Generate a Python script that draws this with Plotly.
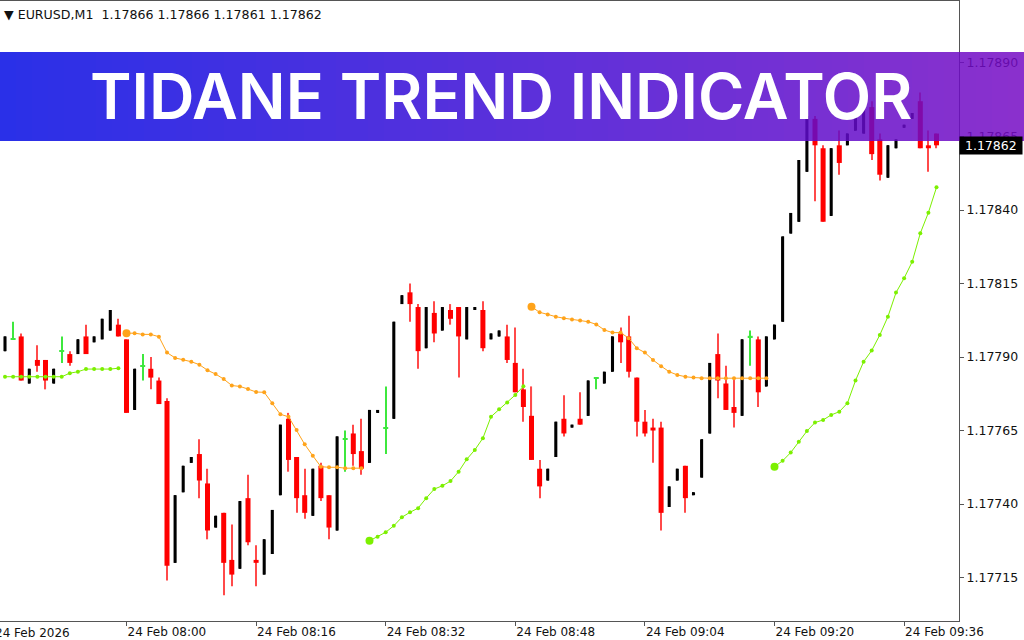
import plotly.graph_objects as go

# ---------------- data (EURUSD M1, 24 Feb 2026, 07:45 .. 09:40) ----------------
opens = [1.17792, 1.17796, 1.17797, 1.17781, 1.17789, 1.17789, 1.17781, 1.17792, 1.17791, 1.17791,
         1.17797, 1.17795, 1.17796, 1.17799, 1.17801, 1.17796, 1.17772, 1.17787, 1.17786, 1.17782,
         1.17775, 1.17720, 1.17744, 1.17754, 1.17757, 1.17747, 1.17732, 1.17737, 1.17721, 1.17718,
         1.17742, 1.17721, 1.17716, 1.17723, 1.17743, 1.17769, 1.17756, 1.17743, 1.17736, 1.17753,
         1.17743, 1.17731, 1.17762, 1.17764, 1.17758, 1.17754, 1.17771, 1.17766, 1.17769, 1.17808,
         1.17812, 1.17807, 1.17793, 1.17805, 1.17799, 1.17806, 1.17807, 1.17796, 1.17806, 1.17806,
         1.17796, 1.17797, 1.17797, 1.17788, 1.17779, 1.17770, 1.17752, 1.17748, 1.17756, 1.17769,
         1.17766, 1.17769, 1.17770, 1.17783, 1.17781, 1.17785, 1.17798, 1.17797, 1.17783, 1.17768,
         1.17766, 1.17766, 1.17739, 1.17748, 1.17753, 1.17743, 1.17749, 1.17764, 1.17791, 1.17781,
         1.17773, 1.17770, 1.17797, 1.17796, 1.17780, 1.17796, 1.17802, 1.17832, 1.17836, 1.17853,
         1.17871, 1.17861, 1.17838, 1.17862, 1.17862, 1.17867, 1.17866, 1.17875, 1.17864, 1.17851,
         1.17861, 1.17868, 1.17871, 1.17877, 1.17862, 1.17866]
highs = [1.17797, 1.17802, 1.17798, 1.17786, 1.17794, 1.17789, 1.17786, 1.17797, 1.17792, 1.17796,
         1.17801, 1.17797, 1.17803, 1.17806, 1.17803, 1.17796, 1.17786, 1.17791, 1.17790, 1.17783,
         1.17776, 1.17743, 1.17753, 1.17756, 1.17762, 1.17752, 1.17736, 1.17737, 1.17733, 1.17741,
         1.17750, 1.17726, 1.17728, 1.17738, 1.17767, 1.17771, 1.17756, 1.17752, 1.17752, 1.17754,
         1.17743, 1.17763, 1.17765, 1.17767, 1.17769, 1.17772, 1.17772, 1.17780, 1.17802, 1.17811,
         1.17815, 1.17808, 1.17807, 1.17809, 1.17807, 1.17808, 1.17807, 1.17807, 1.17807, 1.17809,
         1.17798, 1.17799, 1.17801, 1.17800, 1.17786, 1.17780, 1.17755, 1.17752, 1.17768, 1.17777,
         1.17767, 1.17778, 1.17782, 1.17783, 1.17785, 1.17797, 1.17800, 1.17804, 1.17783, 1.17772,
         1.17769, 1.17768, 1.17746, 1.17752, 1.17753, 1.17744, 1.17762, 1.17788, 1.17798, 1.17787,
         1.17783, 1.17796, 1.17799, 1.17797, 1.17797, 1.17801, 1.17831, 1.17839, 1.17857, 1.17872,
         1.17872, 1.17862, 1.17861, 1.17867, 1.17866, 1.17873, 1.17875, 1.17877, 1.17866, 1.17862,
         1.17864, 1.17869, 1.17873, 1.17880, 1.17867, 1.17866]
lows = [1.17792, 1.17796, 1.17782, 1.17781, 1.17785, 1.17779, 1.17781, 1.17788, 1.17787, 1.17791,
        1.17791, 1.17795, 1.17796, 1.17799, 1.17797, 1.17771, 1.17772, 1.17782, 1.17779, 1.17774,
        1.17714, 1.17720, 1.17744, 1.17754, 1.17742, 1.17728, 1.17732, 1.17709, 1.17712, 1.17718,
        1.17726, 1.17712, 1.17716, 1.17723, 1.17743, 1.17751, 1.17737, 1.17735, 1.17736, 1.17741,
        1.17728, 1.17731, 1.17751, 1.17753, 1.17750, 1.17754, 1.17771, 1.17757, 1.17769, 1.17808,
        1.17802, 1.17786, 1.17793, 1.17795, 1.17799, 1.17801, 1.17783, 1.17796, 1.17806, 1.17792,
        1.17796, 1.17797, 1.17788, 1.17778, 1.17768, 1.17755, 1.17742, 1.17748, 1.17756, 1.17763,
        1.17766, 1.17767, 1.17770, 1.17779, 1.17781, 1.17785, 1.17788, 1.17783, 1.17763, 1.17763,
        1.17754, 1.17731, 1.17739, 1.17748, 1.17737, 1.17743, 1.17749, 1.17764, 1.17776, 1.17772,
        1.17766, 1.17770, 1.17787, 1.17773, 1.17780, 1.17796, 1.17802, 1.17832, 1.17836, 1.17853,
        1.17843, 1.17836, 1.17838, 1.17852, 1.17862, 1.17867, 1.17866, 1.17857, 1.17850, 1.17851,
        1.17861, 1.17868, 1.17871, 1.17861, 1.17853, 1.17861]
closes = [1.17797, 1.17796, 1.17782, 1.17786, 1.17787, 1.17782, 1.17786, 1.17792, 1.17788, 1.17796,
          1.17791, 1.17797, 1.17803, 1.17806, 1.17797, 1.17771, 1.17786, 1.17787, 1.17783, 1.17774,
          1.17719, 1.17743, 1.17753, 1.17756, 1.17748, 1.17731, 1.17736, 1.17720, 1.17716, 1.17741,
          1.17727, 1.17720, 1.17728, 1.17738, 1.17767, 1.17755, 1.17742, 1.17737, 1.17752, 1.17742,
          1.17732, 1.17763, 1.17762, 1.17757, 1.17752, 1.17772, 1.17772, 1.17766, 1.17802, 1.17811,
          1.17808, 1.17792, 1.17807, 1.17798, 1.17807, 1.17803, 1.17797, 1.17807, 1.17807, 1.17793,
          1.17798, 1.17799, 1.17789, 1.17778, 1.17773, 1.17755, 1.17746, 1.17752, 1.17768, 1.17764,
          1.17767, 1.17767, 1.17782, 1.17783, 1.17785, 1.17797, 1.17795, 1.17785, 1.17768, 1.17764,
          1.17765, 1.17737, 1.17746, 1.17752, 1.17742, 1.17744, 1.17762, 1.17788, 1.17782, 1.17772,
          1.17771, 1.17796, 1.17797, 1.17778, 1.17797, 1.17801, 1.17831, 1.17839, 1.17857, 1.17872,
          1.17862, 1.17836, 1.17861, 1.17856, 1.17866, 1.17873, 1.17875, 1.17859, 1.17852, 1.17862,
          1.17864, 1.17869, 1.17873, 1.17861, 1.17861, 1.17862]

# Tidane trend indicator: up-trend (green) and down-trend (orange) lines
trend_up = ([1.177833] * 8 + [1.177845, 1.177850, 1.177859, 1.177859, 1.177859, 1.177859, 1.177862]
            + [None] * 30
            + [1.177275, 1.177289, 1.177304, 1.177326, 1.177355, 1.177372, 1.177386, 1.177420,
               1.177451, 1.177462, 1.177478, 1.177510, 1.177552, 1.177584, 1.177624, 1.177697,
               1.177722, 1.177745, 1.177771, 1.177801]
            + [None] * 30
            + [1.177527, 1.177547, 1.177575, 1.177612, 1.177648, 1.177677, 1.177686, 1.177703,
               1.177714, 1.177743, 1.177820, 1.177884, 1.177922, 1.177975, 1.178037, 1.178119,
               1.178168, 1.178224, 1.178321, 1.178391, 1.178477])
trend_down = ([None] * 15
              + [1.177981, 1.177981, 1.177977, 1.177977, 1.177969, 1.177915, 1.177897, 1.177891,
                 1.177884, 1.177874, 1.177855, 1.177842, 1.177825, 1.177803, 1.177800, 1.177791,
                 1.177781, 1.177780, 1.177743, 1.177705, 1.177697, 1.177652, 1.177603, 1.177564,
                 1.177527, 1.177525, 1.177525, 1.177522, 1.177522, 1.177522]
              + [None] * 20
              + [1.178071, 1.178052, 1.178045, 1.178037, 1.178032, 1.178028, 1.178024, 1.178020,
                 1.178011, 1.177992, 1.177983, 1.177983, 1.177964, 1.177930, 1.177915, 1.177890,
                 1.177869, 1.177850, 1.177839, 1.177833, 1.177830, 1.177828, 1.177828, 1.177828,
                 1.177828, 1.177828, 1.177828, 1.177828, 1.177828, 1.177828]
              + [None] * 21)

time_tick_idx = [15, 31, 47, 63, 79, 95, 111]
time_tick_text = ["24 Feb 08:00", "24 Feb 08:16", "24 Feb 08:32", "24 Feb 08:48",
                  "24 Feb 09:04", "24 Feb 09:20", "24 Feb 09:36"]
first_date_label = "24 Feb 2026"
price_ticks = [1.17715, 1.17740, 1.17765, 1.17790, 1.17815, 1.17840, 1.17865, 1.17890]
symbol = "EURUSD,M1"
banner_title = "TIDANE TREND INDICATOR"

# ---------------- geometry ----------------
W, H = 1024, 640
ML, MR, MT, MB = 0, 65, 1, 19
PW, PH = W - ML - MR, H - MT - MB
BAR_PX = 8.1
X0_PX = 5.0
x_range = [-X0_PX / BAR_PX, (PW - X0_PX) / BAR_PX]
y_range = [1.1770022, 1.1791108]
PX = (y_range[1] - y_range[0]) / PH  # price per pixel

idx = list(range(len(opens)))
red = [i for i in idx if closes[i] < opens[i]]
blk = [i for i in idx if closes[i] > opens[i]]
doj = [i for i in idx if closes[i] == opens[i]]

fig = go.Figure()

def bar(xs, base, height, width, color):
    fig.add_trace(go.Bar(x=xs, base=base, y=height, width=width,
                         marker=dict(color=color, line=dict(width=0)),
                         showlegend=False, hoverinfo="skip"))

# red candles: wick + body
bar(red, [lows[i] for i in red], [highs[i] - lows[i] for i in red], 0.14, "#ff4a4a")
bar(red, [closes[i] for i in red], [max(opens[i] - closes[i], PX) for i in red], 0.62, "#ff0000")
# black (bull) candles
bar(blk, [lows[i] for i in blk], [highs[i] - lows[i] for i in blk], 0.14, "#000000")
bar(blk, [opens[i] for i in blk], [max(closes[i] - opens[i], PX) for i in blk], 0.38, "#000000")
# doji candles (green)
bar(doj, [lows[i] for i in doj], [highs[i] - lows[i] for i in doj], 0.14, "#3ee83e")
bar(doj, [opens[i] - PX * 0.6 for i in doj], [PX * 1.2 for _ in doj], 0.62, "#3ee83e")

# indicator lines
for series, col in ((trend_down, "#ffa31a"), (trend_up, "#7cf000")):
    fig.add_trace(go.Scatter(x=idx, y=series, mode="lines+markers",
                             line=dict(color=col, width=1), marker=dict(color=col, size=4),
                             connectgaps=False, showlegend=False, hoverinfo="skip"))
    starts = [i for i in idx if series[i] is not None and i > 0 and series[i - 1] is None]
    fig.add_trace(go.Scatter(x=starts, y=[series[i] for i in starts], mode="markers",
                             marker=dict(color=col, size=8), showlegend=False, hoverinfo="skip"))

FONT = "DejaVu Sans"
axis_col = "#555555"
fig.update_layout(
    width=W, height=H, margin=dict(l=ML, r=MR, t=MT, b=MB),
    paper_bgcolor="white", plot_bgcolor="white", barmode="overlay",
    xaxis=dict(range=x_range, tickvals=time_tick_idx, ticktext=time_tick_text,
               ticks="outside", ticklen=4, tickcolor=axis_col, showline=True, linecolor=axis_col,
               mirror=True, showgrid=False, zeroline=False, ticklabelposition="outside right",
               tickfont=dict(family=FONT, size=12, color="#111")),
    yaxis=dict(range=y_range, side="right", tickvals=price_ticks, tickformat=".5f",
               ticks="outside", ticklen=4, tickcolor=axis_col, showline=True, linecolor=axis_col,
               showgrid=False, zeroline=False, tickfont=dict(family=FONT, size=12.5, color="#111")),
)

def ppx(x):
    return (x - ML) / PW

def ppy(y):
    return (H - MB - y) / PH

annotations = [
    dict(x=ppx(2), y=ppy(14), xref="paper", yref="paper", xanchor="left", yanchor="middle",
         text="\u25BC " + symbol + "  " + " ".join(f"{v:.5f}" for v in (opens[-1], highs[-1], lows[-1], closes[-1])),
         showarrow=False, font=dict(family=FONT, size=12.6, color="#111")),
    dict(x=0, y=ppy(633), xref="paper", yref="paper", xanchor="left", yanchor="middle", xshift=-7,
         text=first_date_label, showarrow=False, font=dict(family=FONT, size=12, color="#111")),
    dict(x=1, y=closes[-1], xref="paper", yref="y", xanchor="left", yanchor="middle",
         text=f" {closes[-1]:.5f} ", showarrow=False, bgcolor="black", borderpad=1,
         font=dict(family=FONT, size=12.5, color="white")),
    dict(x=ppx(501), y=ppy(96), xref="paper", yref="paper", xanchor="center", yanchor="middle",
         text=banner_title, showarrow=False,
         font=dict(family="Inter", size=63, color="white", weight=600)),
]

# banner gradient (semi-transparent)
shapes = []
N = 64
left_c = (5, 12, 228)
right_c = (118, 12, 196)
for k in range(N):
    t = k / (N - 1)
    c = [round(left_c[j] + (right_c[j] - left_c[j]) * t) for j in range(3)]
    shapes.append(dict(type="rect", xref="paper", yref="paper",
                       x0=ppx(k * W / N), x1=ppx((k + 1) * W / N), y0=ppy(141), y1=ppy(52),
                       fillcolor=f"rgba({c[0]},{c[1]},{c[2]},0.85)", line=dict(width=0), layer="above"))

fig.update_layout(annotations=annotations, shapes=shapes)
fig.write_html("out.html", config={"displayModeBar": False},
               post_script="document.body.style.margin='0';document.body.style.overflow='hidden';")
